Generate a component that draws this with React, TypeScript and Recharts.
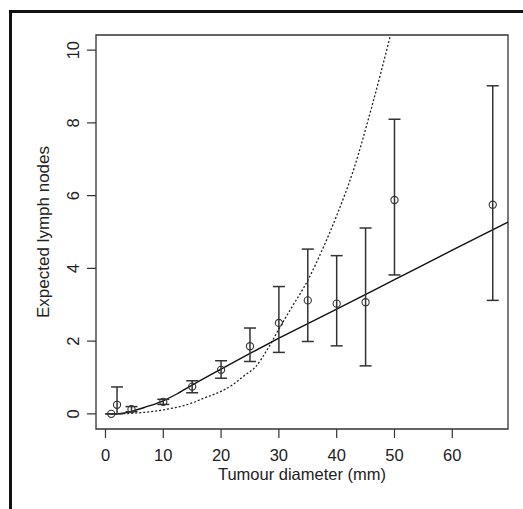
import {
  ComposedChart,
  Line,
  Scatter,
  ErrorBar,
  XAxis,
  YAxis,
  ReferenceArea,
  Label,
} from "recharts";

// observed groups (mean with interval)
const diameters = [1, 2, 4.5, 10, 15, 20, 25, 30, 35, 40, 45, 50, 67];
const observed = [0, 0.25, 0.13, 0.33, 0.75, 1.21, 1.86, 2.5, 3.12, 3.03, 3.07, 5.88, 5.75];
const lower = [0, 0, 0.06, 0.26, 0.58, 0.98, 1.44, 1.69, 1.99, 1.87, 1.32, 3.82, 3.12];
const upper = [0, 0.74, 0.2, 0.4, 0.91, 1.46, 2.36, 3.5, 4.53, 4.35, 5.11, 8.1, 9.02];

// fitted model (solid)
const fitX = [1, 3, 5, 7, 10, 12.5, 15, 20, 25, 30, 40, 50, 60, 69.64];
const fitY = [0, 0.02, 0.09, 0.19, 0.36, 0.56, 0.79, 1.23, 1.66, 2.08, 2.88, 3.69, 4.5, 5.27];

// alternative model (dotted)
const altX = [1, 5, 10, 15, 17, 20, 22, 24, 26, 28, 30, 32, 35, 37.5, 40, 43, 46, 49.3, 51];
const altY = [0, 0.02, 0.11, 0.3, 0.43, 0.62, 0.8, 1.05, 1.3, 1.77, 2.33, 2.87, 3.67, 4.51, 5.45, 6.75, 8.4, 10.41, 11.5];

const xTicks = [0, 10, 20, 30, 40, 50, 60];
const yTicks = [0, 2, 4, 6, 8, 10];

const X_DOMAIN: [number, number] = [-1.64, 69.64];
const Y_DOMAIN: [number, number] = [-0.416, 10.416];

const points = diameters.map((x, i) => ({
  x,
  y: observed[i],
  err: [observed[i] - lower[i], upper[i] - observed[i]],
}));
const fitLine = fitX.map((x, i) => ({ x, y: fitY[i] }));
const altLine = altX.map((x, i) => ({ x, y: altY[i] }));

const FONT = "'Liberation Sans', Arial, Helvetica, sans-serif";
const INK = "#222";

const XTick = ({ x, payload }: any) => (
  <text x={x} y={455} textAnchor="middle" dominantBaseline="central" fontSize={16.5} fontFamily={FONT} fill={INK}>
    {payload.value}
  </text>
);

const YTick = ({ y, payload }: any) => (
  <text
    x={73}
    y={y}
    transform={`rotate(-90, 73, ${y})`}
    textAnchor="middle"
    dominantBaseline="central"
    fontSize={16.5}
    fontFamily={FONT}
    fill={INK}
  >
    {payload.value}
  </text>
);

const OpenCircle = ({ cx, cy }: any) => (
  <circle cx={cx} cy={cy} r={3.6} fill="none" stroke="#333" strokeWidth={1.1} />
);

export default function App() {
  return (
    <div style={{ position: "fixed", left: 0, top: 0, width: 523, height: 509, background: "#fff" }}>
      <div
        style={{
          position: "absolute",
          left: 9,
          top: 10,
          width: 520,
          height: 505,
          borderLeft: "3px solid #111",
          borderTop: "3px solid #111",
        }}
      />
      <ComposedChart
        width={523}
        height={509}
        margin={{ top: 35, right: 15, bottom: 20, left: 0 }}
        style={{ position: "absolute", left: 0, top: 0 }}
      >
        <XAxis
          type="number"
          dataKey="x"
          domain={X_DOMAIN}
          ticks={xTicks}
          allowDataOverflow
          axisLine={false}
          tickLine={{ stroke: "#333", strokeWidth: 1.2 }}
          tickSize={9}
          tick={<XTick />}
          height={60}
        >
          <Label
            content={() => (
              <text x={302} y={473.5} textAnchor="middle" dominantBaseline="central" fontSize={16.5} fontFamily={FONT} fill={INK}>
                Tumour diameter (mm)
              </text>
            )}
          />
        </XAxis>
        <YAxis
          type="number"
          dataKey="y"
          domain={Y_DOMAIN}
          ticks={yTicks}
          allowDataOverflow
          axisLine={false}
          tickLine={{ stroke: "#333", strokeWidth: 1.2 }}
          tickSize={9}
          tick={<YTick />}
          width={96}
        >
          <Label
            content={() => (
              <text
                x={43}
                y={232}
                transform="rotate(-90, 43, 232)"
                textAnchor="middle"
                dominantBaseline="central"
                fontSize={17}
                fontFamily={FONT}
                fill={INK}
              >
                Expected lymph nodes
              </text>
            )}
          />
        </YAxis>
        <ReferenceArea
          x1={X_DOMAIN[0]}
          x2={X_DOMAIN[1]}
          y1={Y_DOMAIN[0]}
          y2={Y_DOMAIN[1]}
          fill="none"
          fillOpacity={0}
          stroke="#333"
          strokeWidth={1.3}
          ifOverflow="visible"
        />
        <Line
          data={altLine}
          dataKey="y"
          type="monotone"
          stroke="#222"
          strokeWidth={1.3}
          strokeDasharray="2 2"
          dot={false}
          activeDot={false}
          isAnimationActive={false}
        />
        <Line
          data={fitLine}
          dataKey="y"
          type="monotone"
          stroke="#111"
          strokeWidth={1.4}
          dot={false}
          activeDot={false}
          isAnimationActive={false}
        />
        <Scatter data={points} dataKey="y" shape={<OpenCircle />} isAnimationActive={false}>
          <ErrorBar dataKey="err" direction="y" width={6} stroke="#333" strokeWidth={1.5} isAnimationActive={false} />
        </Scatter>
      </ComposedChart>
    </div>
  );
}
